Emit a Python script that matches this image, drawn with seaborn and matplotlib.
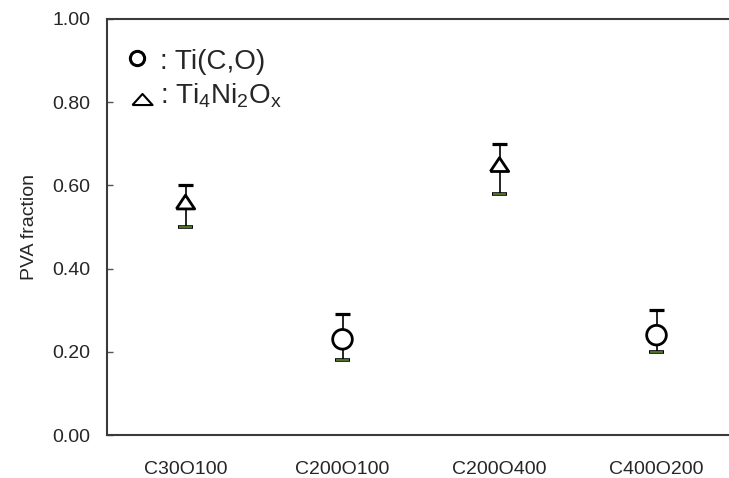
import numpy as np
import pandas as pd
import matplotlib
matplotlib.use("Agg")
import matplotlib.pyplot as plt
import seaborn as sns

# data
categories = ["C30O100", "C200O100", "C200O400", "C400O200"]
phases = ["Ti4Ni2Ox", "Ti(C,O)", "Ti4Ni2Ox", "Ti(C,O)"]
pva = [0.56, 0.23, 0.65, 0.24]
err_upper = [0.60, 0.29, 0.70, 0.30]
err_lower = [0.50, 0.18, 0.58, 0.20]
y_ticks = [0.0, 0.2, 0.4, 0.6, 0.8, 1.0]

sns.set_style("white")
plt.rcParams["font.family"] = ["Liberation Sans", "DejaVu Sans"]
plt.rcParams["mathtext.fontset"] = "custom"
plt.rcParams["mathtext.rm"] = "Liberation Sans"

df = pd.DataFrame({"sample": categories, "phase": phases, "pva": pva,
                   "hi": err_upper, "lo": err_lower})
df["x"] = np.arange(len(df))

# flat-ish triangle like the Excel marker
tri = [(-1, -0.75), (1, -0.75), (0, 0.75), (-1, -0.75)]
tri_leg = [(-1, -0.55), (1, -0.55), (0, 0.55), (-1, -0.55)]

fig = plt.figure(figsize=(7.29, 4.78), dpi=100)
# axes runs a little past the right edge, like the cropped original
ax = fig.add_axes([107 / 729, 43 / 478, 628 / 729, 416 / 478])

# error bars: black stem + upper cap, green lower cap
for _, r in df.iterrows():
    ax.plot([r.x, r.x], [r.lo, r.hi], color="black", lw=1.2, zorder=2)
    ax.plot([r.x - 0.048, r.x + 0.048], [r.hi, r.hi], color="black", lw=2.3, zorder=2,
            solid_capstyle="butt")
    ax.plot([r.x - 0.048, r.x + 0.048], [r.lo, r.lo], color="black", lw=2.6, zorder=2,
            solid_capstyle="butt")
    ax.plot([r.x - 0.044, r.x + 0.044], [r.lo, r.lo], color="#4f7526", lw=1.4, zorder=2,
            solid_capstyle="butt")

sns.scatterplot(data=df, x="x", y="pva", style="phase",
                markers={"Ti(C,O)": "o", "Ti4Ni2Ox": tri},
                size="phase", sizes={"Ti(C,O)": 200, "Ti4Ni2Ox": 175},
                color="white", edgecolor="black", linewidth=2.0,
                legend=False, zorder=3, ax=ax)

# legend drawn as marker + text like the original
ax.scatter([0.047], [0.906], transform=ax.transAxes, marker="o", s=105,
           facecolor="white", edgecolor="black", linewidth=2.2, clip_on=False)
ax.scatter([0.056], [0.808], transform=ax.transAxes, marker=tri_leg, s=210,
           facecolor="white", edgecolor="black", linewidth=1.5, clip_on=False)
ax.text(0.0844, 0.881, ": Ti(C,O)", transform=ax.transAxes, fontsize=20,
        va="baseline", ha="left")
ax.text(0.0844, 0.798, r": Ti$_\mathregular{4}$Ni$_\mathregular{2}$O$_\mathregular{x}$",
        transform=ax.transAxes, fontsize=20, va="baseline", ha="left")

ax.set_xlim(-0.5, 3.5)
ax.set_ylim(0, 1)
ax.set_xticks(df["x"])
ax.set_xticklabels(categories)
ax.set_yticks(y_ticks)
ax.set_yticklabels([f"{t:.2f}" for t in y_ticks])
ax.set_xlabel("")
ax.set_ylabel("PVA fraction", fontsize=14, labelpad=10)

ax.tick_params(axis="y", left=True, direction="in", length=4, width=1,
               color="#555555", labelsize=14, pad=12)
ax.tick_params(axis="x", bottom=False, labelsize=14, pad=15)
for side in ["left", "bottom", "top", "right"]:
    ax.spines[side].set_color("#3a3a3a")
    ax.spines[side].set_linewidth(1.5)

fig.savefig("out.png", dpi=100)
